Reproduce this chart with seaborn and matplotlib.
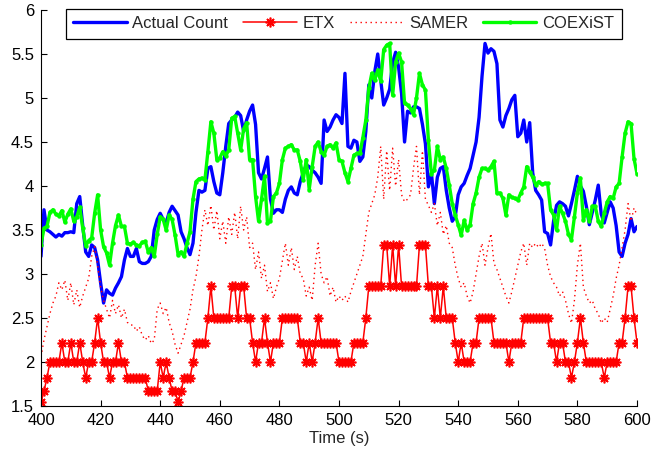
import matplotlib
matplotlib.use("Agg")
import matplotlib.pyplot as plt
from matplotlib.ticker import FormatStrFormatter
import pandas as pd
import seaborn as sns

# Sample times (s)
time_s = list(range(400, 601))

actual_count = [
    3.20, 3.73, 3.50, 3.48, 3.45, 3.42, 3.45, 3.43, 3.47, 3.47,
    3.48, 3.47, 3.80, 3.88, 3.55, 3.25, 3.20, 3.33, 3.30, 3.16,
    2.90, 2.67, 2.82, 2.78, 2.76, 2.84, 2.90, 2.97, 3.16, 3.29,
    3.20, 3.20, 3.29, 3.14, 3.12, 3.12, 3.14, 3.20, 3.50, 3.62,
    3.69, 3.62, 3.58, 3.70, 3.77, 3.72, 3.67, 3.48, 3.40, 3.30,
    3.22, 3.35, 3.70, 3.95, 3.93, 3.95, 4.20, 4.22, 4.05, 3.92,
    3.90, 4.15, 4.45, 4.71, 4.75, 4.78, 4.84, 4.80, 4.62, 4.75,
    4.85, 4.92, 4.70, 4.15, 4.08, 4.20, 4.33, 3.85, 3.69, 3.73,
    3.73, 3.70, 3.85, 3.95, 3.99, 3.92, 3.90, 4.05, 4.15, 4.24,
    4.22, 4.18, 4.15, 4.10, 4.03, 4.75, 4.62, 4.67, 4.75, 4.81,
    4.78, 4.71, 5.28, 4.45, 4.43, 4.52, 4.50, 4.28, 4.33, 4.62,
    5.15, 5.00, 5.30, 5.50, 5.20, 4.92, 5.00, 5.10, 5.40, 5.52,
    5.35, 5.05, 4.50, 4.85, 4.83, 4.90, 4.90, 4.88, 4.70, 4.48,
    3.99, 4.15, 3.80, 4.10, 4.20, 4.22, 3.95, 3.75, 3.60, 3.65,
    3.90, 3.99, 4.03, 4.12, 4.20, 4.35, 4.50, 4.78, 5.25, 5.62,
    5.51, 5.56, 5.53, 5.39, 4.75, 4.67, 4.80, 4.88, 4.98, 5.03,
    4.56, 4.60, 4.75, 4.50, 4.72, 4.15, 3.95, 3.90, 3.84, 3.48,
    3.46, 3.33, 3.60, 3.78, 3.82, 3.80, 3.77, 3.66, 3.80, 3.95,
    4.11, 4.00, 3.94, 3.77, 3.56, 3.70, 3.84, 4.01, 3.68, 3.58,
    3.70, 3.82, 3.75, 3.55, 3.25, 3.20, 3.35, 3.45, 3.63, 3.48,
    3.54,
]

etx = [
    1.54, 1.67, 1.82, 2.0, 2.0, 2.0, 2.0, 2.22, 2.0, 2.0,
    2.22, 2.0, 2.0, 2.22, 2.0, 1.82, 2.0, 2.0, 2.22, 2.5,
    2.22, 2.0, 2.0, 1.82, 2.0, 2.0, 2.22, 2.0, 2.0, 1.82,
    1.82, 1.82, 1.82, 1.82, 1.82, 1.82, 1.67, 1.67, 1.67, 1.67,
    2.0, 1.82, 2.0, 1.82, 1.67, 1.67, 1.54, 1.67, 1.82, 1.82,
    1.82, 2.0, 2.22, 2.22, 2.22, 2.22, 2.5, 2.86, 2.5, 2.5,
    2.5, 2.5, 2.5, 2.5, 2.86, 2.86, 2.5, 2.86, 2.86, 2.5,
    2.5, 2.22, 2.0, 2.22, 2.22, 2.5, 2.22, 2.0, 2.22, 2.22,
    2.22, 2.5, 2.5, 2.5, 2.5, 2.5, 2.5, 2.22, 2.22, 2.0,
    2.22, 2.0, 2.22, 2.5, 2.22, 2.22, 2.22, 2.22, 2.22, 2.22,
    2.0, 2.0, 2.0, 2.0, 2.0, 2.22, 2.22, 2.22, 2.22, 2.5,
    2.86, 2.86, 2.86, 2.86, 2.86, 3.33, 3.33, 2.86, 3.33, 2.86,
    3.33, 2.86, 2.86, 2.86, 2.86, 2.86, 2.86, 3.33, 3.33, 3.33,
    2.86, 2.86, 2.5, 2.86, 2.5, 2.86, 2.5, 2.5, 2.5, 2.22,
    2.0, 2.22, 2.0, 2.0, 2.0, 2.22, 2.22, 2.5, 2.5, 2.5,
    2.5, 2.5, 2.22, 2.22, 2.22, 2.22, 2.22, 2.0, 2.22, 2.22,
    2.22, 2.22, 2.5, 2.5, 2.5, 2.5, 2.5, 2.5, 2.5, 2.5,
    2.5, 2.22, 2.22, 2.0, 2.22, 2.22, 2.0, 2.0, 1.82, 2.0,
    2.22, 2.5, 2.22, 2.0, 2.0, 2.0, 2.0, 2.0, 2.0, 1.82,
    2.0, 2.0, 2.0, 2.0, 2.22, 2.22, 2.5, 2.86, 2.86, 2.5,
    2.22,
]

samer = [
    2.06, 2.25, 2.40, 2.55, 2.67, 2.75, 2.90, 2.82, 2.93, 2.70,
    2.90, 2.65, 2.82, 2.62, 2.75, 2.85, 2.95, 3.20, 3.31, 3.10,
    2.85, 2.70, 2.60, 2.50, 2.70, 2.55, 2.65, 2.50, 2.60, 2.45,
    2.42, 2.42, 2.35, 2.40, 2.30, 2.25, 2.30, 2.21, 2.25, 2.60,
    2.67, 2.55, 2.62, 2.45, 2.35, 2.20, 2.10, 2.20, 2.30, 2.45,
    2.60, 2.82, 2.97, 3.20, 3.50, 3.73, 3.55, 3.78, 3.50, 3.72,
    3.40, 3.60, 3.35, 3.65, 3.45, 3.70, 3.40, 3.77, 3.50, 3.65,
    3.30, 3.35, 3.05, 3.25, 2.95, 3.10, 2.80, 2.90, 2.72, 2.85,
    2.95, 3.15, 3.35, 3.10, 3.30, 3.05, 3.20, 3.00, 2.95, 2.75,
    2.85, 2.70, 3.10, 3.35, 3.00, 2.90, 2.97, 2.75, 2.85, 2.68,
    2.75, 2.70, 2.75, 2.68, 2.80, 2.90, 3.00, 3.10, 3.20, 3.45,
    3.70, 3.80, 3.90, 4.10, 4.45, 3.85, 4.40, 3.95, 4.43, 4.00,
    4.30, 3.90, 3.82, 3.85, 3.90, 4.20, 4.45, 3.90, 4.40, 3.85,
    3.78, 3.70, 3.80, 3.55, 3.70, 3.45, 3.55, 3.35, 3.30, 3.10,
    2.95, 2.85, 2.90, 2.75, 2.67, 2.80, 3.00, 3.20, 3.35, 3.10,
    3.30, 3.46, 3.12, 3.05, 2.95, 2.85, 2.75, 2.67, 2.80, 2.95,
    3.10, 3.25, 3.35, 3.10, 3.35, 3.30, 3.35, 3.30, 3.35, 3.29,
    3.10, 2.97, 2.90, 2.85, 2.75, 2.80, 2.70, 2.55, 2.44, 2.70,
    3.10, 3.35, 2.85, 2.75, 2.67, 2.70, 2.60, 2.55, 2.44, 2.50,
    2.45, 2.60, 2.75, 2.95, 3.10, 3.30, 3.50, 3.80, 3.60, 3.75,
    3.67,
]

coexist = [
    3.33, 3.52, 3.54, 3.70, 3.73, 3.68, 3.66, 3.72, 3.59, 3.68,
    3.74, 3.60, 3.65, 3.76, 3.52, 3.32, 3.38, 3.41, 3.69, 3.90,
    3.50, 3.31, 3.24, 3.10, 3.35, 3.55, 3.67, 3.54, 3.54, 3.35,
    3.34, 3.36, 3.33, 3.32, 3.36, 3.37, 3.25, 3.30, 3.20, 3.45,
    3.65, 3.62, 3.50, 3.67, 3.62, 3.44, 3.22, 3.25, 3.20, 3.35,
    3.48, 3.85, 4.05, 4.08, 4.09, 4.07, 4.39, 4.73, 4.60, 4.30,
    4.32, 4.39, 4.34, 4.41, 4.77, 4.79, 4.60, 4.41, 4.65, 4.72,
    4.30, 4.30, 3.88, 3.60, 3.85, 4.11, 3.58, 3.60, 3.88, 3.92,
    4.03, 4.30, 4.43, 4.45, 4.47, 4.41, 4.41, 4.28, 4.07, 4.30,
    3.96, 4.22, 4.45, 4.50, 4.39, 4.35, 4.45, 4.47, 4.43, 4.49,
    4.30, 4.28, 4.15, 4.05, 4.20, 4.35, 4.37, 4.37, 4.55, 4.75,
    5.11, 5.28, 5.20, 5.32, 5.19, 5.55, 5.60, 5.62, 5.03, 5.41,
    5.51, 5.41, 4.94, 4.92, 4.88, 4.81, 5.00, 5.28, 5.15, 5.09,
    4.52, 4.14, 4.18, 4.45, 4.30, 4.33, 4.20, 4.01, 3.80, 3.67,
    3.56, 3.44, 3.61, 3.50, 3.56, 3.80, 3.92, 4.10, 4.20, 4.20,
    4.18, 4.22, 4.28, 3.92, 3.92, 3.86, 3.67, 3.90, 3.87, 3.86,
    3.84, 3.92, 3.99, 4.22, 4.16, 4.10, 4.01, 4.05, 4.02, 4.03,
    4.03, 3.73, 3.67, 3.50, 3.77, 3.69, 3.60, 3.45, 3.39, 3.65,
    3.92, 4.09, 3.61, 3.73, 3.60, 3.77, 3.77, 3.60, 3.54, 3.69,
    3.82, 3.88, 3.86, 3.99, 4.03, 4.33, 4.60, 4.73, 4.71, 4.31,
    4.14,
]

x_ticks = [400, 420, 440, 460, 480, 500, 520, 540, 560, 580, 600]
y_ticks = [1.5, 2, 2.5, 3, 3.5, 4, 4.5, 5, 5.5, 6]

sns.set_style("white")
plt.rcParams["font.family"] = ["Liberation Sans", "DejaVu Sans"]

df = pd.DataFrame({
    "Time": time_s,
    "Actual Count": actual_count,
    "ETX": etx,
    "SAMER": samer,
    "COEXiST": coexist,
})

fig = plt.figure(figsize=(6.54, 4.57), dpi=100)
ax = fig.add_axes([41 / 654, 51 / 457, 596 / 654, 396 / 457])

sns.lineplot(data=df, x="Time", y="Actual Count", ax=ax, color=(0, 0, 1),
             linewidth=2.4, label="Actual Count")
sns.lineplot(data=df, x="Time", y="ETX", ax=ax, color=(1, 0, 0),
             linewidth=1.1, marker=(8, 2, 0), markersize=7,
             markeredgewidth=1.2, markeredgecolor=(1, 0, 0), label="ETX")
sns.lineplot(data=df, x="Time", y="SAMER", ax=ax, color=(1, 0, 0),
             linewidth=1.0, linestyle=(0, (1, 2.6)), label="SAMER")
sns.lineplot(data=df, x="Time", y="COEXiST", ax=ax, color=(0, 1, 0),
             linewidth=2.4, marker="o", markersize=3.2, markeredgewidth=0,
             label="COEXiST")

ax.set_xlim(400, 600)
ax.set_ylim(1.5, 6)
ax.set_xticks(x_ticks)
ax.set_yticks(y_ticks)
ax.yaxis.set_major_formatter(FormatStrFormatter("%g"))
ax.set_xlabel("Time (s)", fontsize=12, labelpad=2)
ax.set_ylabel("")

for side in ("top", "right"):
    ax.spines[side].set_visible(False)
for side in ("left", "bottom"):
    ax.spines[side].set_color("black")
    ax.spines[side].set_linewidth(0.8)

ax.tick_params(axis="both", which="major", direction="in", length=4,
               width=0.8, labelsize=12, colors="black",
               bottom=True, left=True, top=False, right=False, pad=5)

handles, labels = ax.get_legend_handles_labels()
leg = ax.legend(handles, labels, ncol=4, loc="upper center",
                bbox_to_anchor=(0.508, 1.003), borderaxespad=0,
                fontsize=12, handlelength=3.2, handletextpad=0.35,
                columnspacing=0.9, borderpad=0.45, fancybox=False,
                framealpha=1, edgecolor="black", numpoints=1)
leg.get_frame().set_linewidth(0.9)
leg.set_zorder(10)

fig.savefig("out.png", dpi=100)
